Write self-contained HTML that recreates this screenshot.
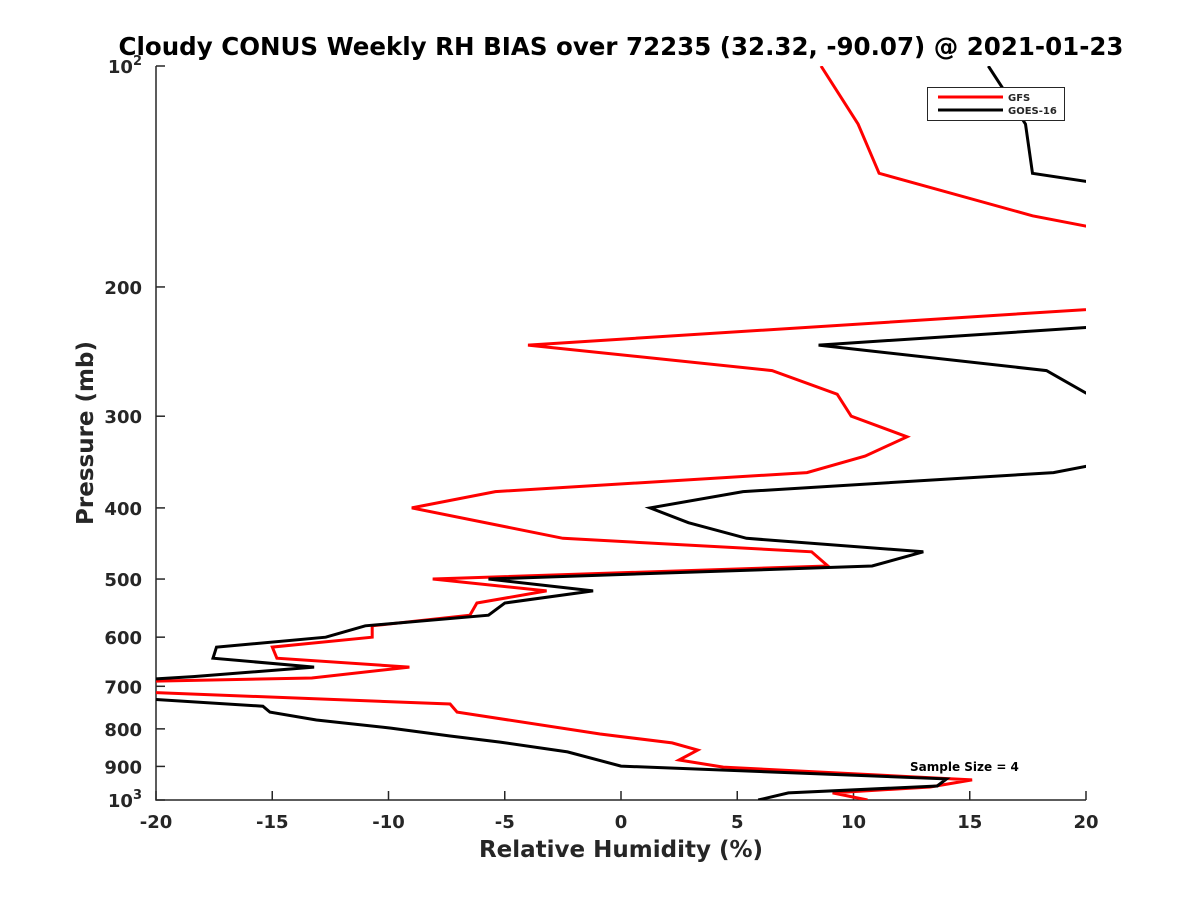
<!DOCTYPE html>
<html><head><meta charset="utf-8"><style>
html,body{margin:0;padding:0;background:#fff;}
svg{display:block;font-family:"DejaVu Sans","Liberation Sans",sans-serif;font-weight:bold;}
</style></head><body>
<svg id="chart" width="1200" height="900" viewBox="0 0 1200 900">
<defs><clipPath id="clip"><rect x="156" y="66" width="930" height="734"/></clipPath></defs>
<text x="621" y="55" text-anchor="middle" font-size="24.5" fill="#000">Cloudy CONUS Weekly RH BIAS over 72235 (32.32, -90.07) @ 2021-01-23</text>
<g id="axes"></g>
<g id="series" clip-path="url(#clip)"></g>
<text x="621" y="857" text-anchor="middle" font-size="23" fill="#262626">Relative Humidity (%)</text>
<text transform="translate(93,433) rotate(-90)" text-anchor="middle" font-size="23" fill="#262626">Pressure (mb)</text>
<text x="910" y="771" font-size="12" fill="#000">Sample Size = 4</text>
<g>
<rect x="927.5" y="87.5" width="137" height="33" fill="#fff" stroke="#262626" stroke-width="1"/>
<line x1="938" y1="97" x2="1003" y2="97" stroke="#ff0000" stroke-width="3"/>
<text x="1008" y="101" font-size="10" fill="#262626">GFS</text>
<line x1="938" y1="110" x2="1003" y2="110" stroke="#000" stroke-width="3"/>
<text x="1008" y="114" font-size="10" fill="#262626">GOES-16</text>
</g>
</svg>
<script>
const xTicks = [-20,-15,-10,-5,0,5,10,15,20];
const yTicks = [100,200,300,400,500,600,700,800,900,1000];
const yTickLabels = ["10^2","200","300","400","500","600","700","800","900","10^3"];
const gfsP = [100,120,140,160,170,205,240,260,280,300,320,340,358,380,400,440,459,480,500,519,539,560,579,600,619,641,659,682,689,700,713,740,759,813,836,855,882,902,939,960,978,1000];
const gfsV = [8.6,10.2,11.1,17.7,22,30,-4.0,6.5,9.3,9.9,12.3,10.5,8.0,-5.4,-9.0,-2.5,8.2,8.9,-8.1,-3.2,-6.2,-6.5,-10.7,-10.7,-15.0,-14.8,-9.1,-13.3,-20.5,-24,-20.5,-7.35,-7.05,-0.9,2.2,3.3,2.5,4.4,15.1,13.3,9.1,10.6];
const goesP = [100,107,120,140,150,200,225,240,260,279,290,340,351,358,380,400,419,440,459,480,500,519,539,560,579,600,619,641,659,679,690,729,745,759,778,798,818,834,860,899,936,957,978,1000];
const goesV = [15.8,16.4,17.4,17.7,24,30,22,8.5,18.3,20,24,24,20,18.6,5.25,1.25,2.9,5.4,13.0,10.8,-5.7,-1.2,-5.0,-5.7,-11.0,-12.7,-17.4,-17.55,-13.2,-18.4,-22,-20.2,-15.4,-15.1,-13.1,-9.9,-7.35,-5.2,-2.3,0,14.0,13.6,7.2,5.9];
const NS='http://www.w3.org/2000/svg';
const X0=156,X1=1086,Y0=66,Y1=800;
function xs(v){return X0+(v+20)/40*(X1-X0);}
function ys(p){return Y0+(Math.log10(p)-2)*(Y1-Y0);}
function mk(tag,attrs){const e=document.createElementNS(NS,tag);for(const k in attrs)e.setAttribute(k,attrs[k]);return e;}
const axes=document.getElementById('axes');
const ax=mk('path',{d:`M${X0} ${Y0}V${Y1}H${X1}`,fill:'none',stroke:'#262626','stroke-width':1.5});


axes.appendChild(ax);
xTicks.forEach(t=>{
  const x=xs(t);
  const l=mk('line',{x1:x,x2:x,y1:Y1,y2:Y1-9,stroke:'#262626','stroke-width':1.5});
  
  
  axes.appendChild(l);
  const tx=mk('text',{x:x,y:Y1+28,'text-anchor':'middle','font-size':18,fill:'#262626'});
  tx.textContent=String(t);
  
  
  axes.appendChild(tx);
});
yTicks.forEach((t,i)=>{
  const y=ys(t);
  const l=mk('line',{x1:X0,x2:X0+9,y1:y,y2:y,stroke:'#262626','stroke-width':1.5});
  
  
  axes.appendChild(l);
  const lab=yTickLabels[i];
  const tx=mk('text',{x:X0-14,y:y+7,'text-anchor':'end','font-size':18,fill:'#262626'});
  if(lab.indexOf('^')>=0){
    const parts=lab.split('^');
    tx.appendChild(document.createTextNode(parts[0]));
    const sup=mk('tspan',{dy:-8,'font-size':13});
    sup.textContent=parts[1];
    tx.appendChild(sup);
  } else {
    tx.textContent=lab;
  }
  
  
  axes.appendChild(tx);
});
const series=document.getElementById('series');
function drawLine(P,V,color,name){
  const d=P.map((p,i)=>(i?'L':'M')+xs(V[i]).toFixed(1)+' '+ys(p).toFixed(1)).join('');
  const path=mk('path',{d:d,fill:'none',stroke:color,'stroke-width':3,'stroke-linejoin':'miter'});
  
  
  series.appendChild(path);
}
drawLine(gfsP,gfsV,'#ff0000','gfs-line');
drawLine(goesP,goesV,'#000','goes16-line');
</script>
</body></html>
